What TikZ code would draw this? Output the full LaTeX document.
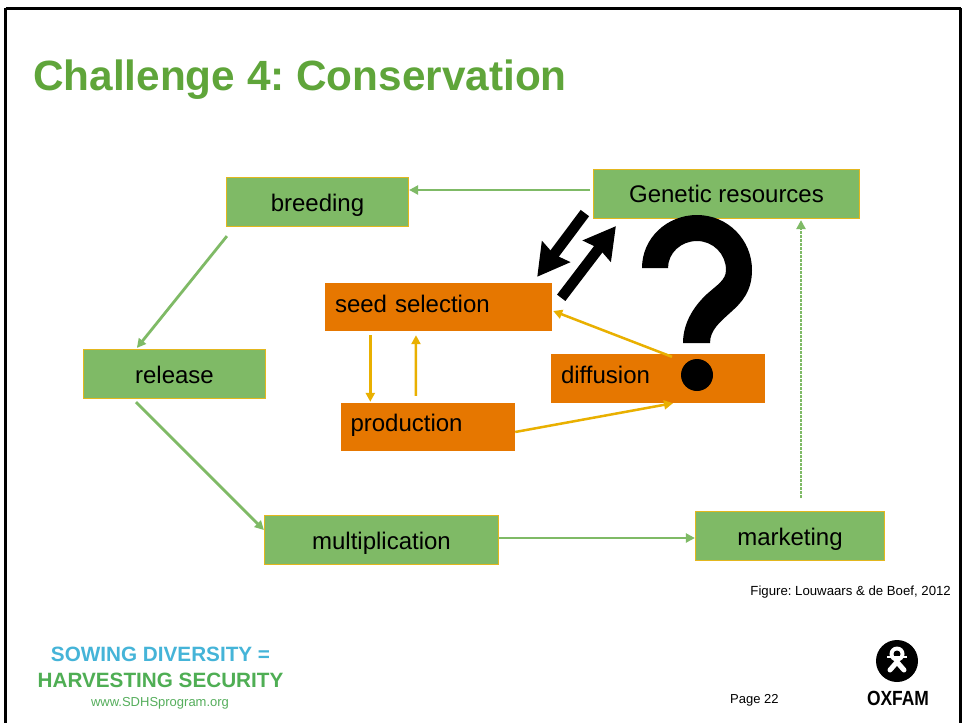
\documentclass[tikz,border=0pt]{standalone}
\usepackage{fontspec}
\setmainfont{Liberation Sans}
\frenchspacing
\usetikzlibrary{arrows.meta}
\definecolor{boxgreen}{HTML}{7FBA66}
\definecolor{boxgold}{HTML}{E3B71E}
\definecolor{boxorange}{HTML}{E67700}
\definecolor{arrowgold}{HTML}{E9B000}
\definecolor{titlegreen}{HTML}{5FA53A}
\definecolor{sowblue}{HTML}{45B4D8}
\definecolor{sowgreen}{HTML}{4FAE54}
\definecolor{urlgreen}{HTML}{55AE5C}
\tikzset{
  x=1pt,y=-1pt,
  basedrop/.style={text depth=0pt,text height=#1},
  greenbox/.style={draw=boxgold,line width=1.2pt,fill=boxgreen,inner sep=0pt,font=\fontsize{24}{24}\selectfont},
  orangebox/.style={fill=boxorange,inner sep=0pt,font=\fontsize{24}{24}\selectfont},
  greenarrow/.style={draw=boxgreen,line width=2.8pt,-{Triangle[length=9pt,width=9pt]}},
  goldarrow/.style={draw=arrowgold,line width=2.5pt,-{Triangle[length=9pt,width=9pt]}},
  blackarrow/.style={draw=black,line width=10.5pt,-{Stealth[length=31pt,width=34pt,inset=3pt]}},
}
\begin{document}
\begin{tikzpicture}
\useasboundingbox (0,0) rectangle (964,723);
\fill[white] (0,0) rectangle (964,723);
\draw[line width=3pt] (5.5,8) -- (960.5,8);
\draw[line width=3pt] (5.5,8) -- (5.5,723);
\draw[line width=3pt] (960.5,8) -- (960.5,723);
\node[anchor=base west,inner sep=0pt,text=titlegreen,font=\fontsize{42.3}{42}\selectfont\bfseries] (title) at (33,90) {Challenge 4: Conservation};
% boxes
\node[greenbox,basedrop=18.5pt,minimum width=182pt,minimum height=49pt] (breeding) at (317.5,202) {breeding};
\node[greenbox,basedrop=16.5pt,minimum width=266pt,minimum height=49pt] (genetic) at (726.5,194) {Genetic resources};
\node[greenbox,basedrop=19.5pt,minimum width=182pt,minimum height=49pt] (release) at (174.5,374) {release};
\node[greenbox,basedrop=18.5pt,minimum width=234pt,minimum height=49pt] (multiplication) at (381.5,540) {multiplication};
\node[greenbox,basedrop=18.5pt,minimum width=189pt,minimum height=49pt] (marketing) at (790,536) {marketing};
\node[orangebox,basedrop=11.2pt,minimum width=227pt,minimum height=48pt,align=left,text width=207pt] (seed) at (438.5,307) {seed selection};
\node[orangebox,basedrop=8.5pt,minimum width=174pt,minimum height=48pt,align=left,text width=155pt] (production) at (428,427) {production};
\node[orangebox,basedrop=9.2pt,minimum width=214pt,minimum height=49pt,align=left,text width=194pt] (diffusion) at (658,378.5) {diffusion};
% question mark
\fill[black] (642,268) .. controls (642,238) and (667,215) .. (697,215) .. controls (728,215) and (752,240) .. (752,270) .. controls (752,292) and (741,303) .. (731,312) .. controls (720,322) and (710,330) .. (710,343) -- (683,343) .. controls (683,322) and (695,305) .. (707,294) .. controls (717,285) and (726,280) .. (726,270) .. controls (726,254) and (713,241) .. (697,241) .. controls (681,241) and (668,253) .. (668,268) -- cycle;
\fill[black] (697,375) circle (16);
% green connectors
\draw[greenarrow] ([xshift=-3pt,yshift=4pt]genetic.west) -- (breeding.east |- 0,190);
\draw[greenarrow] ([xshift=1pt,yshift=-9pt]breeding.south west) -- ([xshift=54pt,yshift=1pt]release.north west);
\draw[greenarrow] ([xshift=53pt,yshift=-3pt]release.south west) -- ([yshift=10pt]multiplication.west);
\draw[greenarrow] ([yshift=2pt]multiplication.east) -- ([yshift=-2pt]marketing.west);
\draw[greenarrow,dash pattern=on 2.5pt off 1.5pt] ([xshift=11pt,yshift=13pt]marketing.north) -- ([xshift=74.5pt,yshift=-1pt]genetic.south);
% gold connectors
\draw[goldarrow] ([xshift=45.5pt,yshift=-4pt]seed.south west) -- ([xshift=29.5pt,yshift=1pt]production.north west);
\draw[goldarrow] ([xshift=75pt,yshift=7pt]production.north west) -- ([xshift=-22.5pt,yshift=-4pt]seed.south);
\draw[goldarrow] ([xshift=14pt,yshift=-3pt]diffusion.north) -- ([yshift=-3pt,xshift=1pt]seed.east |- 0,308);
\draw[goldarrow] ([yshift=-5pt]production.east) -- ([xshift=15pt]diffusion.south);
% black arrows
\draw[blackarrow] ([xshift=-8pt,yshift=6pt]genetic.south west) -- ([xshift=-15pt,yshift=6pt]seed.north east);
\draw[blackarrow] ([xshift=9pt,yshift=-15pt]seed.north east) -- ([xshift=23pt,yshift=-7pt]genetic.south west);
% notes
\node[anchor=base east,inner sep=0pt,font=\fontsize{13.2}{13.2}\selectfont] (figure) at (951,595) {Figure: Louwaars \& de Boef, 2012};
\node[anchor=base west,inner sep=0pt,font=\fontsize{13}{13}\selectfont] (page) at (730,703) {Page 22};
\node[anchor=base,inner sep=0pt,text=sowblue,font=\fontsize{20.7}{21}\selectfont\bfseries] (sow) at (160.5,661.5) {SOWING DIVERSITY =};
\node[anchor=base,inner sep=0pt,text=sowgreen,font=\fontsize{20.7}{21}\selectfont\bfseries] (harvest) at (160.5,687) {HARVESTING SECURITY};
\node[anchor=base,inner sep=0pt,text=urlgreen,font=\fontsize{13}{13}\selectfont] (url) at (160,706) {www.SDHSprogram.org};
% logo
\fill[black] (897,661) circle (21);
\fill[white] (897,654) circle (7.5);
\fill[black] (897,654) circle (3.5);
\draw[white,line width=2.5pt] (887,657) -- (907,657);
\draw[white,line width=5pt,line cap=round] (897,662) -- (890,670);
\draw[white,line width=5pt,line cap=round] (897,662) -- (904,670);
\node[anchor=base,inner sep=0pt,xscale=0.85,font=\fontsize{20.5}{20}\selectfont\bfseries] (oxfam) at (898,705) {OXFAM};
\end{tikzpicture}
\end{document}
